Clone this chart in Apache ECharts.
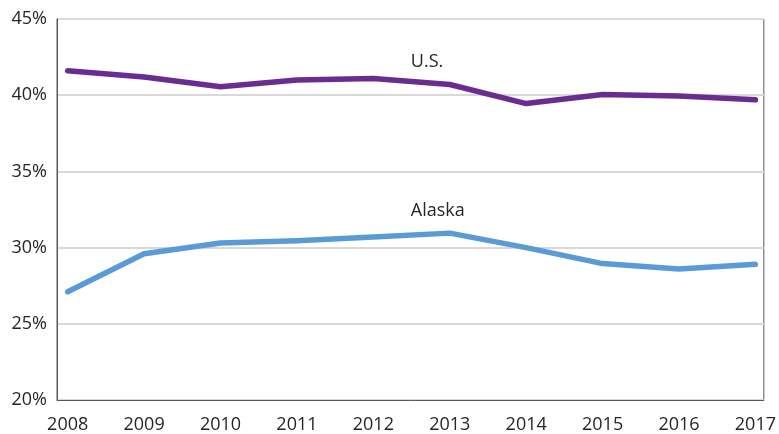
<!DOCTYPE html>
<html>
<head>
<meta charset="utf-8">
<script src="https://cdn.jsdelivr.net/npm/echarts@6/dist/echarts.min.js"></script>
<style>html,body{margin:0;padding:0;background:#fff;}#c{width:779px;height:434px;}</style>
</head>
<body>
<div id="c"></div>
<script>
const years = [2008, 2009, 2010, 2011, 2012, 2013, 2014, 2015, 2016, 2017];
const usValues = [41.6, 41.2, 40.55, 41.0, 41.1, 40.7, 39.45, 40.05, 39.95, 39.7];
const alaskaValues = [27.1, 29.6, 30.3, 30.45, 30.7, 30.95, 30.0, 28.95, 28.6, 28.9];
const yTicks = [20, 25, 30, 35, 40, 45];
const usLabel = { name: 'U.S.', year: 2012.49, value: 42.2 };
const alaskaLabel = { name: 'Alaska', year: 2012.49, value: 32.4 };

const font = '"Open Sans", "Liberation Sans", sans-serif';
const chart = echarts.init(document.getElementById('c'), null, { renderer: 'canvas' });
function pairs(vals) { return years.map((y, i) => [y, vals[i]]); }
function lbl(l) {
  return {
    symbol: 'circle', symbolSize: 0, silent: true, animation: false,
    data: [{ coord: [l.year, l.value], value: l.name }],
    label: { show: true, position: 'inside', align: 'left', verticalAlign: 'middle',
      formatter: l.name, color: '#262626', fontSize: 18, fontFamily: font }
  };
}
chart.setOption({
  animation: false,
  backgroundColor: '#fff',
  grid: { left: 57, top: 19, right: 12, bottom: 32, show: true, borderColor: '#595959', borderWidth: 1, containLabel: false },
  xAxis: {
    type: 'value', min: 2007.86, max: 2017.11,
    axisLine: { show: true, lineStyle: { color: '#595959', width: 1 } },
    axisTick: { show: false },
    splitLine: { show: false },
    axisLabel: { customValues: years, color: '#262626', fontSize: 18, fontFamily: font, margin: 16, formatter: v => String(v) }
  },
  yAxis: {
    type: 'value', min: 20, max: 45, interval: 5,
    axisLine: { show: true, lineStyle: { color: '#595959', width: 1 } },
    axisTick: { show: false },
    splitLine: { show: true, lineStyle: { color: '#d9d9d9', width: 2 } },
    axisLabel: { customValues: yTicks, color: '#262626', fontSize: 18, fontFamily: font, margin: 10, formatter: '{value}%' }
  },
  series: [
    { name: 'U.S.', type: 'line', data: pairs(usValues), showSymbol: false, symbol: 'none',
      lineStyle: { color: '#6a2c91', width: 5.5, cap: 'round', join: 'round' }, markPoint: lbl(usLabel) },
    { name: 'Alaska', type: 'line', data: pairs(alaskaValues), showSymbol: false, symbol: 'none',
      lineStyle: { color: '#5b9bd5', width: 5.5, cap: 'round', join: 'round' }, markPoint: lbl(alaskaLabel) }
  ]
});
</script>
</body>
</html>
